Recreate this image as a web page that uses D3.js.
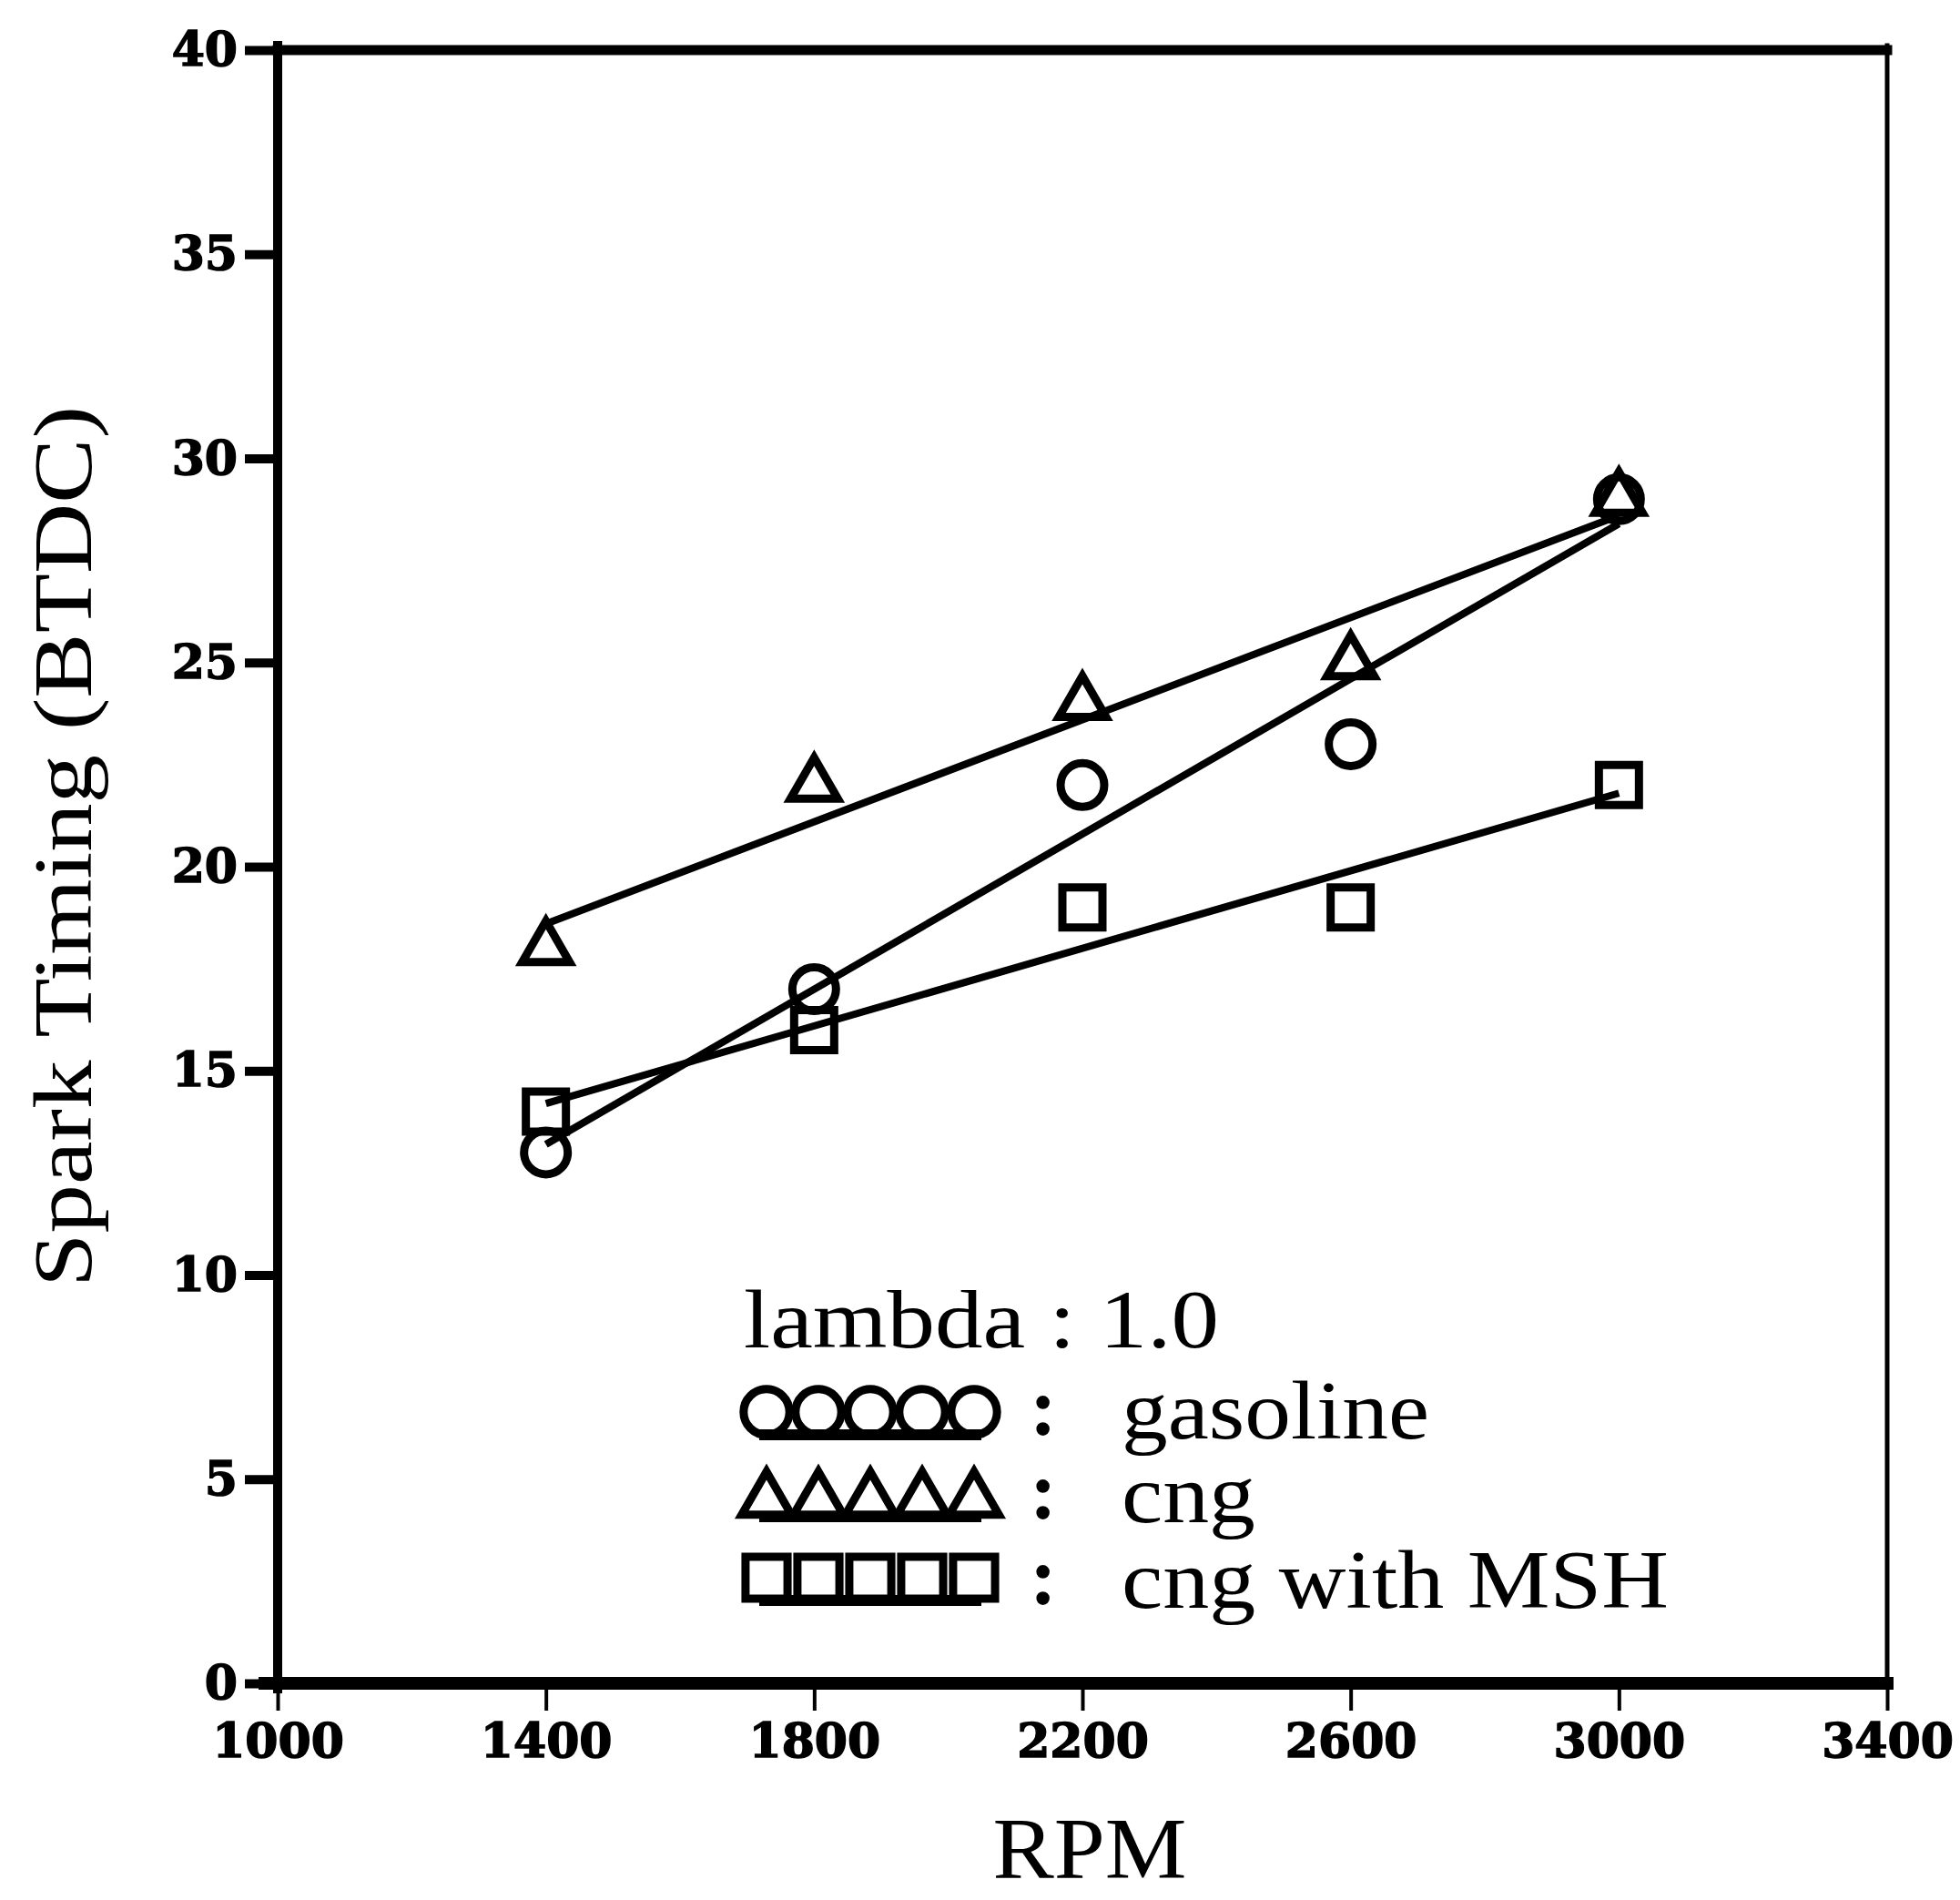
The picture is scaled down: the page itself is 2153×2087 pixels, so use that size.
<!DOCTYPE html>
<html>
<head>
<meta charset="utf-8">
<script src="https://cdn.jsdelivr.net/npm/d3@7"></script>
<style>
  body { margin: 0; background: #fff; }
  svg { display: block; background: #fff; }
</style>
</head>
<body>
<svg id="drawing_region"></svg>
<script>
// values
const rpm = [1400, 1800, 2200, 2600, 3000];
const gasoline = [13, 17, 22, 23, 29];
const cng = [18, 22, 24, 25, 29];
const cngMsh = [14, 16, 19, 19, 22];

const seriesNames = ['gasoline', 'cng', 'cng with MSH'];
const seriesShapes = ['circle', 'triangle', 'square'];

const xTicks = [1000, 1400, 1800, 2200, 2600, 3000, 3400];
const yTicks = [0, 5, 10, 15, 20, 25, 30, 35, 40];

const legendTitle = 'lambda : 1.0';
const xTitle = 'RPM';
const yTitle = 'Spark Timing (BTDC)';

class SparkTimingPlot {

  constructor( config, series ) {
      this.config = {
          parent: config.parent,
          width: config.width || 2153,
          height: config.height || 2087,
          margin: config.margin,
      }
      this.series = series;
      this.init();
  }

  init() {
      let self = this;
      const m = self.config.margin;

      self.svg = d3.select( self.config.parent )
          .attr('width', self.config.width)
          .attr('height', self.config.height);

      self.xscale = d3.scaleLinear()
          .domain([1000, 3400])
          .range([m.left, self.config.width - m.right]);

      self.yscale = d3.scaleLinear()
          .domain([0, 40])
          .range([self.config.height - m.bottom, m.top]);

      self.symbolTypes = {
          circle: d3.symbolCircle,
          triangle: d3.symbolTriangle,
          square: d3.symbolSquare,
      };
      self.symbolSizes = { circle: 1810, triangle: 1170, square: 1936 };
  }

  // least squares line through the points of one series
  fit( ys ) {
      const mx = d3.mean(rpm), my = d3.mean(ys);
      const sxy = d3.sum(rpm, (x, i) => (x - mx) * (ys[i] - my));
      const sxx = d3.sum(rpm, x => (x - mx) * (x - mx));
      const b = sxy / sxx;
      return x => my + b * (x - mx);
  }

  update() {
      let self = this;
      self.render();
  }

  render() {
      let self = this;
      const x = self.xscale, y = self.yscale;
      const x0 = x.range()[0], x1 = x.range()[1];
      const y0 = y.range()[0], y1 = y.range()[1];

      // axes
      const xaxis = self.svg.append('g')
          .attr('transform', `translate(0, ${y0})`)
          .call( d3.axisBottom(x).tickValues(xTicks).tickFormat(d3.format('d'))
                 .tickSize(30).tickPadding(14).tickSizeOuter(0) );
      xaxis.select('.domain').remove();
      xaxis.selectAll('line').attr('stroke', '#000').attr('stroke-width', 4);
      xaxis.selectAll('text')
          .attr('fill', '#000')
          .attr('stroke', '#000')
          .attr('stroke-width', 1.5)
          .style('font-family', '"DejaVu Serif", serif')
          .style('font-weight', 'bold')
          .style('font-size', '52px');

      const yaxis = self.svg.append('g')
          .attr('transform', `translate(${x0}, 0)`)
          .call( d3.axisLeft(y).tickValues(yTicks).tickFormat(d3.format('d'))
                 .tickSize(36).tickPadding(8).tickSizeOuter(0) );
      yaxis.select('.domain').remove();
      yaxis.selectAll('line').attr('stroke', '#000').attr('stroke-width', 10);
      yaxis.selectAll('text')
          .attr('fill', '#000')
          .attr('stroke', '#000')
          .attr('stroke-width', 1.5)
          .style('font-family', '"DejaVu Serif", serif')
          .style('font-weight', 'bold')
          .style('font-size', '52px');

      // frame, heavier on bottom/left like the print
      const frame = [
          { a: [x0, y1], b: [x1, y1], w: 11 },
          { a: [x0, y1 - 5], b: [x0, y0 + 6], w: 10 },
          { a: [x0 - 14, y0], b: [x1, y0], w: 14 },
          { a: [x1, y1 - 5], b: [x1, y0], w: 5 },
      ];
      self.svg.append('g').selectAll('line')
          .data(frame)
          .join('line')
          .attr('x1', d => d.a[0]).attr('y1', d => d.a[1])
          .attr('x2', d => d.b[0]).attr('y2', d => d.b[1])
          .attr('stroke', '#000')
          .attr('stroke-width', d => d.w)
          .attr('stroke-linecap', 'square');

      // fitted lines
      const fitX = [d3.min(rpm), d3.max(rpm)];
      self.svg.append('g').selectAll('line')
          .data(self.series)
          .join('line')
          .attr('x1', x(fitX[0]))
          .attr('x2', x(fitX[1]))
          .attr('y1', d => y(self.fit(d.values)(fitX[0])))
          .attr('y2', d => y(self.fit(d.values)(fitX[1])))
          .attr('stroke', '#000')
          .attr('stroke-width', 8);

      // markers
      self.series.forEach( s => {
          const sym = d3.symbol()
              .type(self.symbolTypes[s.shape])
              .size(self.symbolSizes[s.shape]);
          self.svg.append('g').selectAll('path')
              .data(s.values.map((v, i) => ({ x: rpm[i], y: v })))
              .join('path')
              .attr('d', sym)
              .attr('transform', d => `translate(${x(d.x)}, ${y(d.y)})`)
              .attr('fill', 'none')
              .attr('stroke', '#000')
              .attr('stroke-width', 9);
      });

      // axis titles
      self.svg.append('text')
          .attr('x', (x0 + x1) / 2 + 8)
          .attr('y', 2063)
          .attr('text-anchor', 'middle')
          .attr('textLength', 213)
          .attr('lengthAdjust', 'spacingAndGlyphs')
          .style('font-family', '"Liberation Serif", serif')
          .style('font-size', '96px')
          .text(xTitle);

      self.svg.append('text')
          .attr('transform', `translate(100, ${930}) rotate(-90)`)
          .attr('text-anchor', 'middle')
          .attr('textLength', 968)
          .attr('lengthAdjust', 'spacingAndGlyphs')
          .style('font-family', '"Liberation Serif", serif')
          .style('font-size', '90px')
          .text(yTitle);

      // legend
      const lg = self.svg.append('g');
      const serif = '"Liberation Serif", serif';
      lg.append('text')
          .attr('x', 817).attr('y', 1480)
          .attr('textLength', 522)
          .attr('lengthAdjust', 'spacingAndGlyphs')
          .style('font-family', serif)
          .style('font-size', '90px')
          .text(legendTitle);

      const rowY = [1551, 1648, 1733];
      const textY = [1580, 1672, 1766];
      const textW = [338, 147, 601];
      const markX = d3.range(5).map(i => 842 + i * 57);

      self.series.forEach( (s, r) => {
          const sym = d3.symbol()
              .type(self.symbolTypes[s.shape])
              .size(self.symbolSizes[s.shape] * 1.1);
          const base = s.shape === 'triangle' ? rowY[r] + 18 : rowY[r] + 25;
          lg.append('line')
              .attr('x1', markX[0] - 8).attr('x2', markX[4] + 8)
              .attr('y1', base).attr('y2', base)
              .attr('stroke', '#000')
              .attr('stroke-width', 12);
          lg.append('g').selectAll('path')
              .data(markX)
              .join('path')
              .attr('d', sym)
              .attr('transform', d => `translate(${d}, ${rowY[r]})`)
              .attr('fill', 'none')
              .attr('stroke', '#000')
              .attr('stroke-width', 9);
          lg.append('text')
              .attr('x', 1146).attr('y', textY[r] - 4)
              .attr('text-anchor', 'middle')
              .style('font-family', serif)
              .style('font-weight', 'bold')
              .style('font-size', '90px')
              .text(':');
          lg.append('text')
              .attr('x', 1232).attr('y', textY[r])
              .attr('textLength', textW[r])
              .attr('lengthAdjust', 'spacingAndGlyphs')
              .style('font-family', serif)
              .style('font-size', '90px')
              .text(s.name);
      });
  }
}

const series = [
    { name: seriesNames[0], shape: seriesShapes[0], values: gasoline },
    { name: seriesNames[1], shape: seriesShapes[1], values: cng },
    { name: seriesNames[2], shape: seriesShapes[2], values: cngMsh },
];

const config = {
    parent: '#drawing_region',
    width: 2153,
    height: 2087,
    margin: { top: 55, right: 80, bottom: 238, left: 305 },
};

const plot = new SparkTimingPlot( config, series );
plot.update();
</script>
</body>
</html>
